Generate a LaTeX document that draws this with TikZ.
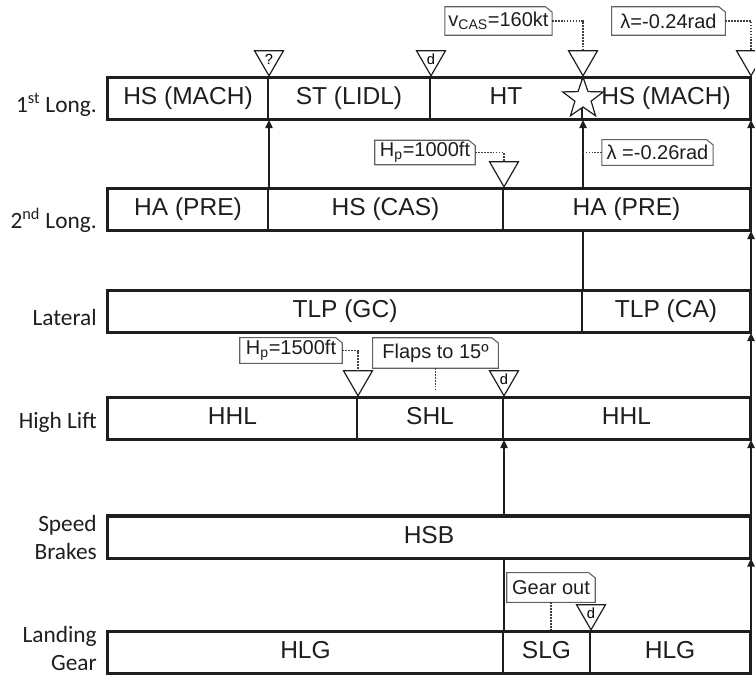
\documentclass[tikz,border=0pt]{standalone}
\usepackage{fontspec}
\setmainfont{Liberation Sans}
\newfontfamily\lblfont{Carlito}
\usetikzlibrary{arrows.meta, shapes.geometric}
\definecolor{ink}{RGB}{30,30,30}

\begin{document}
\begin{tikzpicture}[x=0.75pt, y=-0.75pt,
  seg/.style={draw=ink, line width=1.5pt, inner sep=0pt, minimum height=30.75pt,
    text height=13pt, text depth=4pt, font=\fontsize{18.4}{20}\selectfont, text=ink},
  bar/.style={draw=ink, line width=2.2pt},
  lbl/.style={font=\lblfont\fontsize{17.5}{21}\selectfont, text=ink, align=right, inner sep=0pt},
  arr/.style={draw=ink, line width=1pt, -{Triangle[length=6pt, width=5.5pt]}},
  link/.style={draw=ink, line width=1pt},
  tri/.style={regular polygon, regular polygon sides=3, shape border rotate=180, draw=ink,
    line width=0.9pt, fill=white, inner sep=0pt, minimum size=25pt, anchor=corner 1,
    font=\fontsize{11}{11}\selectfont},
  callout/.style={inner sep=0pt, font=\fontsize{15}{16}\selectfont, text=ink},
  notebox/.style={draw=ink!70, line width=0.8pt},
  dots/.style={draw=ink!85, line width=1.2pt, densely dotted}]
  \useasboundingbox (0,0) rectangle (755,678);
  % segments of each row
  \foreach \nm/\xa/\xb/\yc/\lab in {
      l1a/108/268/98.5/{HS (MACH)}, l1b/268/430/98.5/{ST (LIDL)},
      l1c/430/582/98.5/{HT}, l1d/582/750/98.5/{HS (MACH)},
      l2a/108/268/209.5/{HA (PRE)}, l2b/268/503/209.5/{HS (CAS)},
      l2c/503/750/209.5/{HA (PRE)},
      l3a/108/582/311.5/{TLP (GC)}, l3b/582/750/311.5/{TLP (CA)},
      l4a/108/357/418.5/{HHL}, l4b/357/503/418.5/{SHL}, l4c/503/750/418.5/{HHL},
      l5a/108/750/537/{HSB},
      l6a/108/503/652.5/{HLG}, l6b/503/590/652.5/{SLG}, l6c/590/750/652.5/{HLG}}{
    \pgfmathsetmacro\w{(\xb-\xa)*0.75}
    \node[seg, minimum width=\w pt] (\nm) at ({(\xa+\xb)/2},\yc) {\lab};
  }
  \foreach \p/\q in {l1a/l1d, l2a/l2c, l3a/l3b, l4a/l4c, l5a/l5a, l6a/l6c}
    \draw[bar] (\p.north west) rectangle (\q.south east);
  % row names
  \node[lbl, anchor=base east] (n1) at (97,112) {1\textsuperscript{st} Long.};
  \node[lbl, anchor=base east] (n2) at (97,228) {2\textsuperscript{nd} Long.};
  \node[lbl, anchor=base east] (n3) at (97,325) {Lateral};
  \node[lbl, anchor=base east] (n4) at (97,428) {High Lift};
  \node[lbl, anchor=east] (n5) at (97,537) {Speed\\Brakes};
  \node[lbl, anchor=east] (n6) at (97,648) {Landing\\Gear};
  % transitions
  \draw[arr] (l2a.north east) -- (l1a.south east);
  \draw[link] (l3a.north east) -- (l3a.north east |- l2c.south);
  \draw[arr] (l2c.north -| l3a.north east) -- (l1c.south east);
  \draw[arr] (l2c.north east) -- (l1d.south east);
  \draw[arr] (l3b.north east) -- (l2c.south east);
  \draw[arr] (l4c.north east) -- (l3b.south east);
  \draw[arr] (l5a.north east) -- (l4c.south east);
  \draw[arr] (l6c.north east) -- (l5a.south east);
  \draw[link] (l6a.north east) -- (l6a.north east |- l5a.south);
  \draw[arr] (l5a.north -| l6a.north east) -- (l4b.south east);
  \node[star, star points=5, star point ratio=2.5, draw=ink, fill=white, line width=0.9pt,
    minimum size=32pt, inner sep=0pt] (hit) at (l1c.east) {};
  % events
  \node[tri] (tq) at (l1a.north east) {?};
  \node[tri] (td1) at (l1b.north east) {d};
  \node[tri] (tv) at (l1c.north east) {};
  \node[tri] (tl) at (l1d.north east) {};
  \node[tri] (th1) at (l2b.north east) {};
  \node[tri] (th2) at (l4a.north east) {};
  \node[tri] (td2) at (l4b.north east) {d};
  \node[tri] (td3) at (l6b.north east) {d};
  % notes
  \node[callout, minimum width=80pt, minimum height=21pt] (vcas) at (498.5,21) {v\textsubscript{CAS}=160kt};
  \node[callout, minimum width=85pt, minimum height=21pt] (lamA) at (668.5,21) {λ=-0.24rad};
  \node[callout, minimum width=75pt, minimum height=18pt] (hpA) at (425,152.5) {H\textsubscript{p}=1000ft};
  \node[callout, minimum width=83pt, minimum height=19pt] (lamB) at (657.5,152.5) {λ =-0.26rad};
  \node[callout, minimum width=76.5pt, minimum height=19pt] (hpB) at (291,350.5) {H\textsubscript{p}=1500ft};
  \node[callout, minimum width=94pt, minimum height=22.5pt] (flaps) at (435.5,353) {Flaps to 15º};
  \node[callout, minimum width=66pt, minimum height=22pt] (gear) at (551,587.5) {Gear out};
  \foreach \n in {vcas, lamA, hpA, lamB, hpB, flaps, gear}
    \draw[notebox] (\n.south west) -- (\n.north west) -- ([xshift=-5pt]\n.north east)
      -- ([yshift=-4pt]\n.north east) -- (\n.south east) -- cycle;
  \coordinate (flapsend) at (435.5,390);
  \draw[dots] (vcas.east) -| (tv.north);
  \draw[dots] (lamA.east) -| (tl.north);
  \draw[dots] (hpA.east) -| (th1.north);
  \draw[dots] (lamB.west) -- (lamB.west -| l1c.south east);
  \draw[dots] (hpB.east) -| (th2.north);
  \draw[dots] (flaps.south) -- (flapsend);
  \draw[dots] (gear.south) -- (gear.south |- l6b.north);
\end{tikzpicture}
\end{document}
